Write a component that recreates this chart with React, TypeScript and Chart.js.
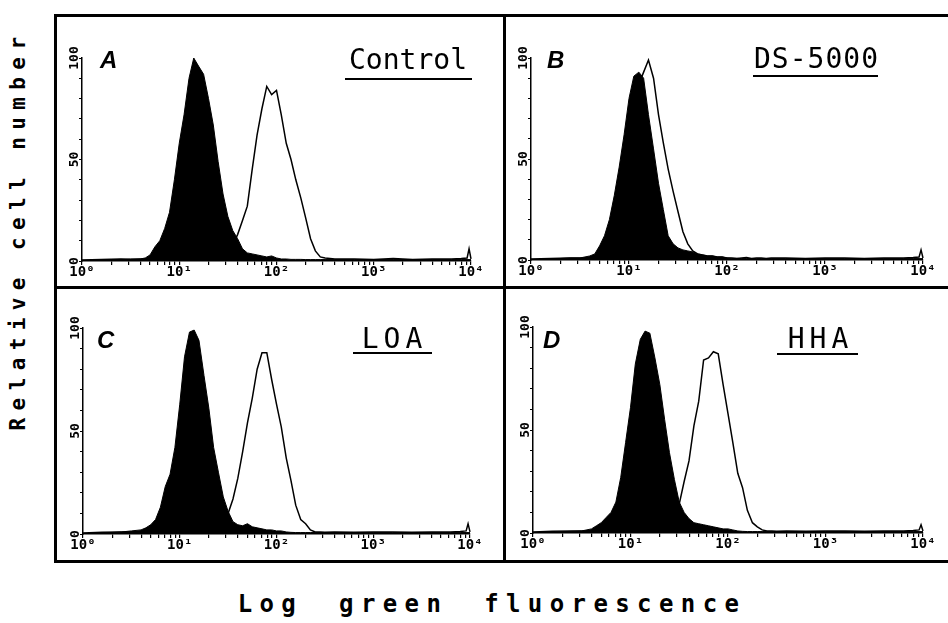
import React, { useEffect, useRef } from "react";
import { Chart, registerables } from "chart.js";

Chart.register(...registerables);

// ---------- data ----------
// Fluorescence channels (log-spaced sampling of the 10^0 .. 10^4 axis)
const CHANNELS = [
  1, 1.58, 2.51, 3.16, 3.98, 4.47, 5.01, 5.62, 6.31, 7.08, 7.94, 8.91, 10, 11.2, 12.6,
  14.1, 15.8, 17.8, 20, 22.4, 25.1, 28.2, 31.6, 35.5, 39.8, 44.7, 50.1, 56.2, 63.1, 70.8,
  79.4, 89.1, 100, 112, 126, 141, 158, 178, 200, 224, 251, 282, 316,
  398, 631, 1000, 1585, 2512, 3981, 6310, 7943, 9120, 9550, 10000,
];

const X_TICKS = [
  1, 2, 3, 4, 5, 6, 7, 8, 9,
  10, 20, 30, 40, 50, 60, 70, 80, 90,
  100, 200, 300, 400, 500, 600, 700, 800, 900,
  1000, 2000, 3000, 4000, 5000, 6000, 7000, 8000, 9000,
  10000,
];
const X_TICK_VALUES = [1, 10, 100, 1000, 10000];
const X_TICK_LABELS = ["10⁰", "10¹", "10²", "10³", "10⁴"];
const Y_TICK_LABELS = [0, 50, 100];

const PANEL_LETTERS = ["A", "B", "C", "D"];
const PANEL_TITLES = ["Control", "DS-5000", "LOA", "HHA"];
const X_TITLE = "Log green fluorescence";
const Y_TITLE = "Relative cell number";

// Panel A — Control
const CONTROL_FILLED = [
  0.3, 0.5, 0.8, 1, 1, 1.5, 3, 7, 10, 16, 24, 40, 58, 72, 90,
  100, 96, 92, 80, 67, 49, 33, 22, 15, 11, 6, 4, 3.5, 3, 2.5,
  2, 2.5, 1.5, 1, 1, 0.8, 0.8, 0.8, 0.7, 0.7, 0.7, 0.7, 0.7,
  0.7, 0.7, 0.7, 0.7, 0.7, 0.7, 0.7, 0.7, 0.7, 0.7, 0.7,
];
const CONTROL_OPEN = [
  0.5, 0.8, 1, 0.8, 1, 1, 1, 1, 1, 1, 1, 1, 1, 1, 1,
  1, 1, 1, 1, 1, 1, 2, 4, 8, 13, 20, 27, 45, 62, 75,
  86, 82, 84, 72, 58, 50, 40, 31, 21, 11, 5, 2, 1.5,
  1, 1, 0.8, 1.2, 0.8, 1, 1, 1.2, 1.5, 6, 1,
];

// Panel B — DS-5000
const DS5000_FILLED = [
  0.3, 0.5, 1, 1, 2, 3, 7, 12, 20, 32, 46, 62, 80, 91, 93,
  90, 72, 55, 38, 25, 12, 8, 6, 5, 4.5, 4, 3, 2.5, 2, 2,
  1.5, 1.5, 1, 0.8, 0.8, 0.7, 0.7, 0.7, 0.7, 0.7, 0.7, 0.7, 0.7,
  0.7, 0.7, 0.7, 0.7, 0.7, 0.7, 0.7, 0.7, 0.7, 0.7, 0.7,
];
const DS5000_OPEN = [
  0.5, 0.8, 1, 1, 1, 1.5, 3, 6, 10, 17, 27, 40, 58, 74, 87,
  93, 99, 90, 72, 58, 45, 34, 24, 14, 8, 4.5, 3, 2.5, 2, 2,
  1.5, 1.5, 1, 1, 0.8, 1, 1.2, 0.8, 1, 1, 0.8, 1, 1,
  1, 0.8, 1, 1, 0.8, 1, 1, 1.2, 1.5, 5, 1,
];

// Panel C — LOA
const LOA_FILLED = [
  0.3, 0.5, 1, 1.5, 2, 3, 4.5, 7, 13, 23, 29, 42, 63, 86, 98,
  99, 94, 77, 61, 42, 30, 18, 11, 6, 4.5, 4, 5, 3.5, 3, 2.5,
  2, 2, 1.5, 1.5, 1, 0.8, 0.7, 0.7, 0.7, 0.7, 0.7, 0.7, 0.7,
  0.7, 0.7, 0.7, 0.7, 0.7, 0.7, 0.7, 0.7, 0.7, 0.7, 0.7,
];
const LOA_OPEN = [
  0.5, 0.8, 1, 1, 1, 1, 1, 1, 1, 1, 1, 1, 1, 1, 1,
  1, 1, 1, 1, 1, 1, 2, 10, 17, 27, 40, 54, 66, 80, 88,
  88, 75, 63, 52, 37, 26, 14, 7, 5, 2, 1, 1, 0.8,
  1, 0.8, 1, 1, 0.8, 1, 1, 1.2, 1.5, 5, 1,
];

// Panel D — HHA
const HHA_FILLED = [
  0.3, 0.5, 0.8, 1, 2, 3.5, 5, 7.5, 10, 15, 27, 44, 61, 82, 94,
  98, 97, 85, 72, 55, 39, 26, 15, 10, 7, 5, 4.5, 4, 3.5, 3,
  2.5, 2, 2, 1.5, 1, 0.8, 0.7, 0.7, 0.7, 0.7, 0.7, 0.7, 0.7,
  0.7, 0.7, 0.7, 0.7, 0.7, 0.7, 0.7, 0.7, 0.7, 0.7, 0.7,
];
const HHA_OPEN = [
  0.5, 0.8, 1, 1, 1, 1, 1, 1, 1, 1, 1, 1, 1, 1, 1,
  1, 1, 1, 1, 1, 1, 2, 14, 25, 35, 52, 64, 84, 85, 88,
  87, 72, 58, 44, 29, 22, 11, 5, 3, 1.5, 1, 1, 0.8,
  1, 0.8, 1, 1, 0.8, 1, 1, 1.2, 1.5, 4, 1,
];

// ---------- layout (page pixel coordinates) ----------
const MONO = '"DejaVu Sans Mono", monospace';
const Y_AXIS_W = 20;
const X_AXIS_H = 20;

const LAYOUT = [
  {
    canvas: { x: 59, y: 17, w: 443, h: 268 },
    plot: { l: 82, r: 471, t: 58, b: 261 },
    letter: { x: 100, y: 68 },
    title: { cx: 408, y: 69, ls: 0 },
    rule: { x1: 345, x2: 472, y: 78 },
  },
  {
    canvas: { x: 508, y: 17, w: 440, h: 268 },
    plot: { l: 531, r: 923, t: 58, b: 260 },
    letter: { x: 547, y: 68 },
    title: { cx: 816, y: 68, ls: 1 },
    rule: { x1: 753, x2: 878, y: 75 },
  },
  {
    canvas: { x: 59, y: 290, w: 443, h: 270 },
    plot: { l: 83, r: 470, t: 328, b: 534 },
    letter: { x: 97, y: 348 },
    title: { cx: 392, y: 348, ls: 5 },
    rule: { x1: 353, x2: 432, y: 352 },
  },
  {
    canvas: { x: 508, y: 290, w: 440, h: 270 },
    plot: { l: 533, r: 923, t: 327, b: 533 },
    letter: { x: 543, y: 348 },
    title: { cx: 818, y: 348, ls: 5 },
    rule: { x1: 777, x2: 858, y: 353 },
  },
];

const SERIES = [
  { filled: CONTROL_FILLED, open: CONTROL_OPEN },
  { filled: DS5000_FILLED, open: DS5000_OPEN },
  { filled: LOA_FILLED, open: LOA_OPEN },
  { filled: HHA_FILLED, open: HHA_OPEN },
];

const toPoints = (ys: number[]) => CHANNELS.map((x, i) => ({ x, y: ys[i] }));

function Panel({ idx }: { idx: number }) {
  const ref = useRef<HTMLCanvasElement | null>(null);
  const L = LAYOUT[idx];

  useEffect(() => {
    if (!ref.current) return;
    const { canvas, plot } = L;
    const padding = {
      left: plot.l - canvas.x - Y_AXIS_W,
      right: canvas.x + canvas.w - plot.r,
      top: plot.t - canvas.y,
      bottom: canvas.y + canvas.h - plot.b - X_AXIS_H,
    };

    const textPlugin = {
      id: "panelText" + idx,
      afterDraw(chart: any) {
        const ctx = chart.ctx as CanvasRenderingContext2D;
        const ox = canvas.x;
        const oy = canvas.y;
        ctx.save();
        ctx.fillStyle = "#000";
        ctx.textBaseline = "alphabetic";
        ctx.textAlign = "left";
        ctx.font = 'italic bold 24px "Liberation Sans", sans-serif';
        ctx.fillText(PANEL_LETTERS[idx], L.letter.x - ox, L.letter.y - oy);
        ctx.font = `28px ${MONO}`;
        (ctx as any).letterSpacing = `${L.title.ls}px`;
        ctx.textAlign = "center";
        ctx.fillText(PANEL_TITLES[idx], L.title.cx - ox + L.title.ls / 2, L.title.y - oy);
        (ctx as any).letterSpacing = "0px";
        ctx.fillRect(L.rule.x1 - ox, L.rule.y - oy, L.rule.x2 - L.rule.x1, 2);
        ctx.restore();
      },
    };

    const chart = new Chart(ref.current, {
      type: "line",
      data: {
        datasets: [
          {
            data: toPoints(SERIES[idx].filled),
            fill: "origin",
            backgroundColor: "#000",
            borderColor: "#000",
            borderWidth: 1,
            pointRadius: 0,
            tension: 0,
            order: 0,
            clip: false,
          },
          {
            data: toPoints(SERIES[idx].open),
            fill: false,
            borderColor: "#000",
            borderWidth: 1.5,
            pointRadius: 0,
            tension: 0,
            order: 1,
            clip: false,
          },
        ],
      },
      options: {
        animation: false,
        responsive: false,
        devicePixelRatio: 1,
        events: [],
        layout: { padding },
        plugins: { legend: { display: false }, tooltip: { enabled: false }, title: { display: false } },
        scales: {
          x: {
            type: "logarithmic",
            min: 1,
            max: 10000,
            afterBuildTicks: (scale: any) => {
              scale.ticks = X_TICKS.map((v) => ({ value: v }));
            },
            afterFit: (scale: any) => {
              scale.height = X_AXIS_H;
            },
            ticks: {
              autoSkip: false,
              minRotation: 0,
              maxRotation: 0,
              padding: -1,
              color: "#000",
              font: { family: MONO, size: 14, weight: "bold" },
              callback: (v: any) => {
                const k = X_TICK_VALUES.indexOf(Number(v));
                return k >= 0 ? X_TICK_LABELS[k] : "";
              },
            },
            grid: { drawOnChartArea: false, drawTicks: true, tickLength: 4, color: "#000", lineWidth: 1.2 },
            border: { display: true, color: "#000", width: 1.5 },
          },
          y: {
            type: "linear",
            min: 0,
            max: 100,
            afterFit: (scale: any) => {
              scale.width = Y_AXIS_W;
            },
            ticks: {
              stepSize: 10,
              autoSkip: false,
              minRotation: 90,
              maxRotation: 90,
              crossAlign: "center",
              padding: -7,
              color: "#000",
              font: { family: MONO, size: 13, weight: "bold" },
              callback: (v: any) => (Y_TICK_LABELS.includes(Number(v)) ? String(v) : ""),
            },
            grid: { drawOnChartArea: false, drawTicks: true, tickLength: 3, color: "#000", lineWidth: 1 },
            border: { display: true, color: "#000", width: 1.5 },
          },
        },
      } as any,
      plugins: [textPlugin],
    });
    return () => chart.destroy();
  }, []);

  return (
    <canvas
      ref={ref}
      width={L.canvas.w}
      height={L.canvas.h}
      style={{ position: "absolute", left: L.canvas.x, top: L.canvas.y, width: L.canvas.w, height: L.canvas.h }}
    />
  );
}

const line = (left: number, top: number, width: number, height: number) => (
  <div style={{ position: "absolute", left, top, width, height, background: "#000" }} />
);

export default function App() {
  return (
    <div
      style={{
        position: "absolute",
        left: 0,
        top: 0,
        width: 948,
        height: 623,
        overflow: "hidden",
        background: "#fff",
      }}
    >
      {LAYOUT.map((_, i) => (
        <Panel key={i} idx={i} />
      ))}
      {/* frame */}
      {line(54, 14, 900, 3)}
      {line(54, 14, 3, 549)}
      {line(54, 286, 900, 3)}
      {line(54, 560, 900, 3)}
      {line(503, 14, 3, 549)}
      {/* axis titles */}
      <div
        style={{
          position: "absolute",
          left: 18,
          top: 230,
          transform: "translate(-50%, -50%) rotate(-90deg)",
          whiteSpace: "nowrap",
          fontFamily: MONO,
          fontSize: 21,
          fontWeight: "bold",
          lineHeight: "21px",
          letterSpacing: "7.4px",
          color: "#000",
        }}
      >
        {Y_TITLE}
      </div>
      <div
        style={{
          position: "absolute",
          left: 492,
          top: 604,
          transform: "translate(-50%, -50%)",
          whiteSpace: "nowrap",
          fontFamily: MONO,
          fontSize: 24,
          fontWeight: "bold",
          lineHeight: "24px",
          letterSpacing: "7.4px",
          wordSpacing: "14px",
          color: "#000",
        }}
      >
        {X_TITLE}
      </div>
    </div>
  );
}
